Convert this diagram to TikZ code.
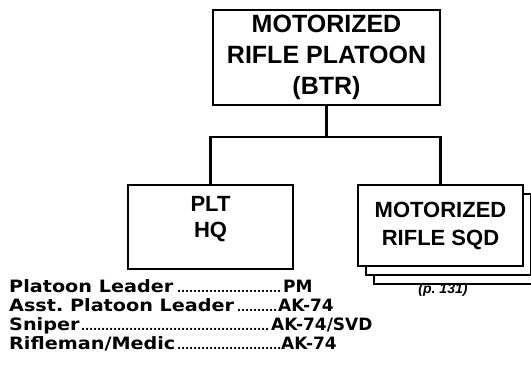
\documentclass[tikz,border=0pt]{standalone}
\usepackage{fontspec}
\setmainfont{Liberation Sans}
\newfontfamily\kitfont{DejaVu Sans}
\usetikzlibrary{positioning}
\tikzset{
  unitbox/.style={rectangle, draw=black, fill=white, line width=2.4pt,
    align=center, inner sep=0pt, font=\fontsize{22}{28}\selectfont\bfseries},
  sqdsize/.style={minimum width=165pt, minimum height=81pt},
  line/.style={line width=2.4pt, color=black},
  kitrow/.style={anchor=base west, inner sep=0pt,
    font=\kitfont\fontsize{17}{19}\selectfont\bfseries}
}
\newcommand{\kitdots}{\leaders\hbox to 4pt{\hss\fontsize{11}{11}\selectfont.\hss}\hfill}
\newcommand{\kitline}[3]{\hbox to #1{\scalebox{1.13}[1]{#2}\kitdots}#3}

\begin{document}
\begin{tikzpicture}[x=1pt, y=-1pt]
  \clip (0,0) rectangle (531,381);
  \fill[white] (0,0) rectangle (531,381);
  % platoon
  \node[unitbox, minimum width=227pt, minimum height=95pt,
    font=\fontsize{25}{31}\selectfont\bfseries] (plt) at (326.5,57.5)
    {MOTORIZED\\RIFLE PLATOON\\(BTR)};
  % headquarters and squads
  \node[unitbox, minimum width=165pt, minimum height=84pt] (hq) at (210.5,227) {};
  \node[align=center, inner sep=0pt, font=\fontsize{22}{26}\selectfont\bfseries]
    (hqtext) at ([yshift=8pt]hq.center) {PLT\\HQ};
  \node[unitbox, sqdsize] (sqd3) at (456.5,243.5) {};
  \node[unitbox, sqdsize] (sqd2) at (448.5,234.5) {};
  \node[unitbox, sqdsize] (sqd) at (440.5,225.5) {MOTORIZED\\RIFLE SQD};
  \node[font=\fontsize{14}{16}\selectfont\bfseries\itshape] (pref) at (443,290) {(p.\ 131)};
  \coordinate (bus) at (326.5,137);
  \draw[line] (plt.south) -- (bus);
  \draw[line] (hq.north) |- (bus) -| (sqd.north);
  % weapons list
  \node[kitrow] (kit1) at (9,292) {\kitline{274pt}{Platoon Leader}{PM}};
  \node[kitrow] (kit2) at (9,311) {\kitline{269pt}{Asst.\ Platoon Leader}{AK-74}};
  \node[kitrow] (kit3) at (9,330) {\kitline{262pt}{Sniper}{AK-74/SVD}};
  \node[kitrow] (kit4) at (9,349) {\kitline{272pt}{Rifleman/Medic}{AK-74}};
\end{tikzpicture}
\end{document}
